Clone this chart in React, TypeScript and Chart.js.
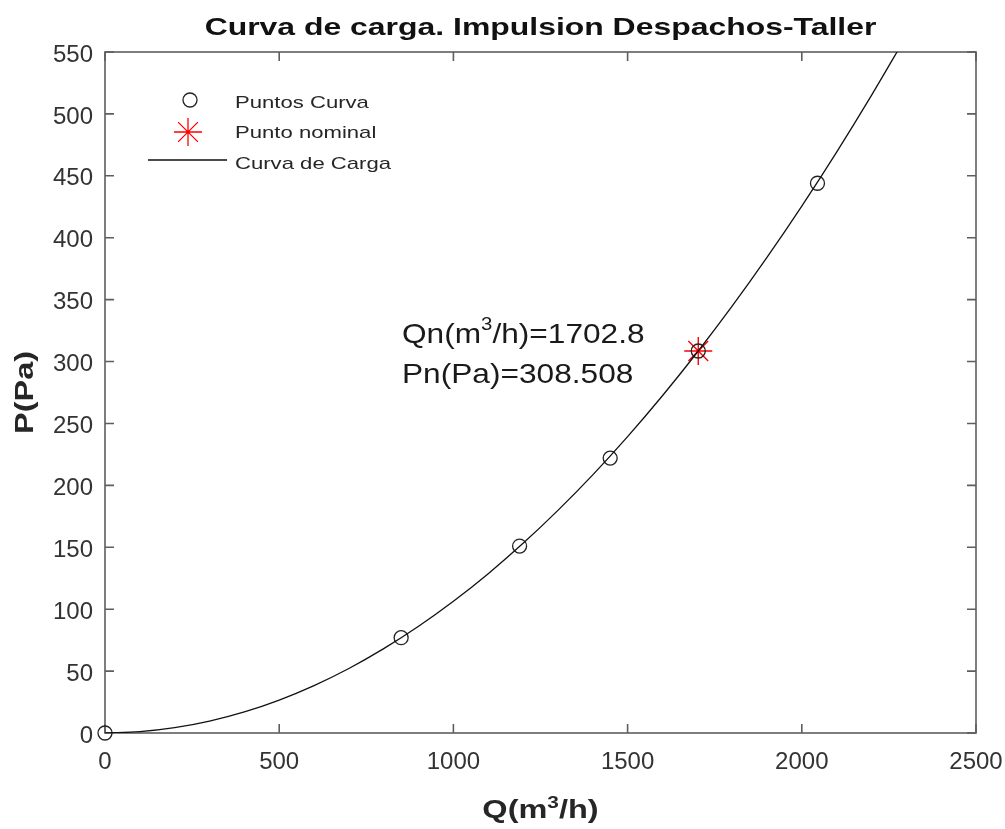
import { useEffect, useRef } from 'react';
import { Chart, registerables } from 'chart.js';

Chart.register(...registerables);

// ---- data ----
const curveQ = [0, 100, 200, 300, 400, 500, 600, 700, 800, 900, 1000, 1100, 1200, 1300, 1400, 1500, 1600, 1700, 1800, 1900, 2000, 2100, 2200, 2300];
const curveP = [0, 1.06, 4.26, 9.58, 17.0, 26.6, 38.3, 52.1, 68.1, 86.2, 106.4, 128.7, 153.2, 179.8, 208.5, 239.4, 272.4, 307.5, 344.7, 384.1, 425.6, 469.2, 515.0, 562.9];
const pointsQ = [0, 850, 1190, 1450, 1702.8, 2045];
const pointsP = [0, 77, 151, 222, 308.508, 444];
const nominalQ = [1702.8];
const nominalP = [308.508];
const xTicks = [0, 500, 1000, 1500, 2000, 2500];
const yTicks = [0, 50, 100, 150, 200, 250, 300, 350, 400, 450, 500, 550];
const titleText = 'Curva de carga. Impulsion Despachos-Taller';
const legendLabels = ['Puntos Curva', 'Punto nominal', 'Curva de Carga'];
const annotQ = '1702.8';
const annotP = '308.508';

const FONT = '"Liberation Sans", Arial, Helvetica, sans-serif';

type Part = { text: string; font: string; dy?: number };

function drawParts(ctx: CanvasRenderingContext2D, parts: Part[], x: number, y: number, sx: number, align: 'left' | 'center', rotate = 0, color = '#1a1a1a') {
  ctx.save();
  ctx.fillStyle = color;
  ctx.textBaseline = 'alphabetic';
  ctx.textAlign = 'left';
  let total = 0;
  const widths = parts.map((p) => {
    ctx.font = p.font;
    const w = ctx.measureText(p.text).width;
    total += w;
    return w;
  });
  ctx.translate(x, y);
  if (rotate) ctx.rotate(rotate);
  ctx.scale(sx, 1);
  let cx = align === 'center' ? -total / 2 : 0;
  parts.forEach((p, i) => {
    ctx.font = p.font;
    ctx.fillText(p.text, cx, p.dy || 0);
    cx += widths[i];
  });
  ctx.restore();
}

function drawStar(ctx: CanvasRenderingContext2D, x: number, y: number, r: number) {
  const d = r * Math.SQRT1_2;
  ctx.beginPath();
  ctx.moveTo(x - r, y); ctx.lineTo(x + r, y);
  ctx.moveTo(x, y - r); ctx.lineTo(x, y + r);
  ctx.moveTo(x - d, y - d); ctx.lineTo(x + d, y + d);
  ctx.moveTo(x - d, y + d); ctx.lineTo(x + d, y - d);
  ctx.stroke();
}

const decorPlugin = {
  id: 'matlabDecor',
  beforeDatasetsDraw(chart: any) {
    const { ctx, chartArea: a, scales } = chart;
    ctx.save();
    ctx.strokeStyle = '#5e5e5e';
    ctx.lineWidth = 1.6;
    ctx.strokeRect(a.left, a.top, a.right - a.left, a.bottom - a.top);
    const tl = 9;
    ctx.beginPath();
    xTicks.forEach((v) => {
      const px = scales.x.getPixelForValue(v);
      ctx.moveTo(px, a.bottom); ctx.lineTo(px, a.bottom - tl);
      ctx.moveTo(px, a.top); ctx.lineTo(px, a.top + tl);
    });
    yTicks.forEach((v) => {
      const py = scales.y.getPixelForValue(v);
      ctx.moveTo(a.left, py); ctx.lineTo(a.left + tl, py);
      ctx.moveTo(a.right, py); ctx.lineTo(a.right - tl, py);
    });
    ctx.stroke();
    ctx.restore();
  },
  afterDraw(chart: any) {
    const { ctx, chartArea: a } = chart;
    const cxPlot = (a.left + a.right) / 2;
    const cyPlot = (a.top + a.bottom) / 2;
    // title
    drawParts(ctx, [{ text: titleText, font: `bold 24px ${FONT}` }], cxPlot, 35, 1.33, 'center', 0, '#111');
    // axis titles
    drawParts(ctx, [
      { text: 'Q(m', font: `bold 25px ${FONT}` },
      { text: '3', font: `bold 16px ${FONT}`, dy: -10 },
      { text: '/h)', font: `bold 25px ${FONT}` },
    ], cxPlot, 818, 1.3, 'center', 0, '#262626');
    drawParts(ctx, [{ text: 'P(Pa)', font: `bold 25px ${FONT}` }], 33, cyPlot, 1.3, 'center', -Math.PI / 2, '#262626');
    // annotation
    drawParts(ctx, [
      { text: 'Qn(m', font: `28px ${FONT}` },
      { text: '3', font: `18px ${FONT}`, dy: -13 },
      { text: '/h)=' + annotQ, font: `28px ${FONT}` },
    ], 402, 343, 1.13, 'left', 0, '#1a1a1a');
    drawParts(ctx, [{ text: 'Pn(Pa)=' + annotP, font: `28px ${FONT}` }], 402, 383, 1.13, 'left', 0, '#1a1a1a');
    // legend
    ctx.save();
    ctx.strokeStyle = '#222';
    ctx.lineWidth = 1.3;
    ctx.beginPath();
    ctx.arc(190, 100, 7, 0, Math.PI * 2);
    ctx.stroke();
    ctx.strokeStyle = '#ff0000';
    ctx.lineWidth = 1.3;
    drawStar(ctx, 188, 132, 14);
    ctx.strokeStyle = '#111';
    ctx.lineWidth = 1.3;
    ctx.beginPath();
    ctx.moveTo(148, 160); ctx.lineTo(227, 160);
    ctx.stroke();
    ctx.restore();
    const ly = [108, 138, 169];
    legendLabels.forEach((t, i) => {
      drawParts(ctx, [{ text: t, font: `17px ${FONT}` }], 235, ly[i], 1.3, 'left', 0, '#262626');
    });
  },
};

export default function App() {
  const ref = useRef<HTMLCanvasElement>(null);
  useEffect(() => {
    if (!ref.current) return;
    const chart = new Chart(ref.current, {
      type: 'scatter',
      data: {
        datasets: [
          {
            label: legendLabels[2],
            type: 'line',
            data: curveQ.map((q, i) => ({ x: q, y: curveP[i] })),
            borderColor: '#111',
            borderWidth: 1.3,
            pointRadius: 0,
            showLine: true,
            fill: false,
            cubicInterpolationMode: 'monotone',
            clip: 0,
          } as any,
          {
            label: legendLabels[0],
            data: pointsQ.map((q, i) => ({ x: q, y: pointsP[i] })),
            pointStyle: 'circle',
            pointRadius: 7,
            pointBorderWidth: 1.3,
            borderColor: '#222',
            backgroundColor: 'rgba(0,0,0,0)',
            pointBackgroundColor: 'rgba(0,0,0,0)',
            pointBorderColor: '#222',
            showLine: false,
            clip: false,
          } as any,
          {
            label: legendLabels[1],
            data: nominalQ.map((q, i) => ({ x: q, y: nominalP[i] })),
            pointStyle: 'star',
            pointRadius: 14,
            pointBorderWidth: 1.4,
            borderColor: '#ff0000',
            pointBorderColor: '#ff0000',
            backgroundColor: 'rgba(0,0,0,0)',
            showLine: false,
            clip: false,
          } as any,
        ],
      },
      options: {
        animation: false,
        responsive: false,
        devicePixelRatio: 1,
        events: [],
        layout: { padding: { left: 0, top: 52, right: 29, bottom: 0 } },
        plugins: {
          legend: { display: false },
          title: { display: false },
          tooltip: { enabled: false },
        },
        scales: {
          x: {
            type: 'linear',
            min: 0,
            max: 2500,
            afterFit: (s: any) => { s.height = 96; s.paddingLeft = 0; s.paddingRight = 0; },
            afterBuildTicks: (s: any) => { s.ticks = xTicks.map((v) => ({ value: v })); },
            grid: { display: false, drawTicks: false },
            border: { display: false },
            ticks: { padding: 15, color: '#333', font: { family: FONT, size: 24 }, callback: (v: any) => String(v) },
          },
          y: {
            type: 'linear',
            min: 0,
            max: 550,
            afterFit: (s: any) => { s.width = 105; s.paddingTop = 0; s.paddingBottom = 0; },
            afterBuildTicks: (s: any) => { s.ticks = yTicks.map((v) => ({ value: v })); },
            grid: { display: false, drawTicks: false },
            border: { display: false },
            ticks: { padding: 12, labelOffset: 3, color: '#333', font: { family: FONT, size: 24 }, callback: (v: any) => String(v) },
          },
        },
      } as any,
      plugins: [decorPlugin],
    });
    return () => chart.destroy();
  }, []);
  return (
    <div style={{ position: 'fixed', left: 0, top: 0, width: 1005, height: 829, background: '#fff' }}>
      <canvas ref={ref} width={1005} height={829} style={{ display: 'block' }} />
    </div>
  );
}
